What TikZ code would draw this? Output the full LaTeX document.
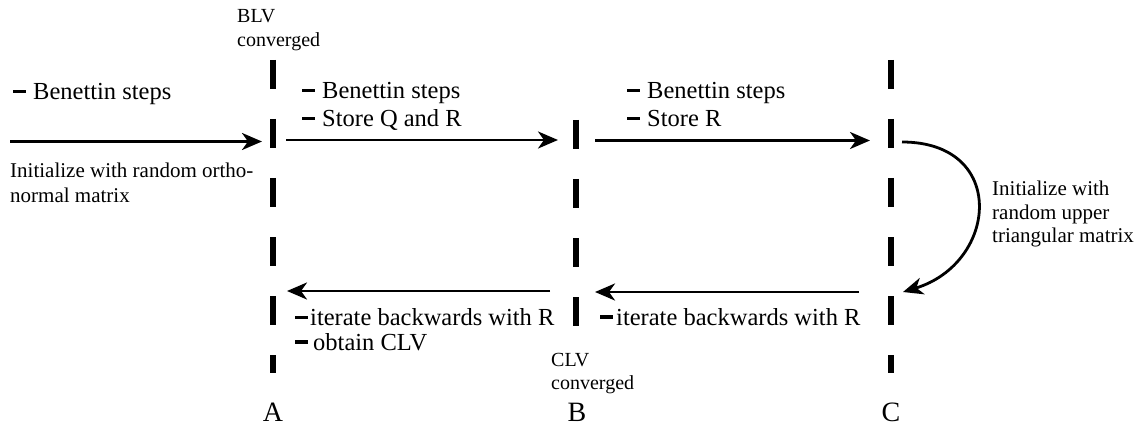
\documentclass[tikz,border=0pt]{standalone}
\usepackage{fontspec}
\setmainfont{Liberation Serif}
\usetikzlibrary{arrows.meta}
\newcommand{\mydash}{\rule[6.5pt]{13pt}{3.2pt}}
\begin{document}
\begin{tikzpicture}[x=1pt,y=-1pt,
  guide/.style={line width=6pt, dash pattern=on 29pt off 30pt},
  flow/.style={line width=2.8pt, -{Stealth[length=20pt,width=17pt,inset=6pt]}},
  big/.style={inner sep=0pt, anchor=base west, font=\fontsize{24.5}{28}\selectfont},
  small/.style={inner sep=0pt, anchor=base west, font=\fontsize{21}{25}\selectfont},
  note/.style={inner sep=0pt, anchor=base west, font=\fontsize{20}{23}\selectfont},
  letter/.style={inner sep=0pt, anchor=base, font=\fontsize{28}{30}\selectfont}]
\useasboundingbox (0,0) rectangle (1141,425);

% vertical dashed guides
\coordinate (Atop) at (273,60);  \coordinate (Abot) at (273,373);
\coordinate (Btop) at (576,120); \coordinate (Bbot) at (576,327);
\coordinate (Ctop) at (891,60);  \coordinate (Cbot) at (891,373);
\draw[guide] (Atop) -- (Abot);
\draw[guide] (Btop) -- (Bbot);
\draw[guide] (Ctop) -- (Cbot);

% forward arrows
\coordinate (f1s) at (10,141.5);  \coordinate (f1e) at (262,141.5);
\coordinate (f2s) at (286,140);   \coordinate (f2e) at (558,140);
\coordinate (f3s) at (595,140.5); \coordinate (f3e) at (870,140.5);
\draw[flow] (f1s) -- (f1e);
\draw[flow] (f2s) -- (f2e);
\draw[flow] (f3s) -- (f3e);

% backward arrows
\coordinate (b1s) at (550,291);   \coordinate (b1e) at (287,291);
\coordinate (b2s) at (859,292);   \coordinate (b2e) at (595,292);
\draw[flow] (b1s) -- (b1e);
\draw[flow] (b2s) -- (b2e);

% curved arrow
\coordinate (cs) at (902,142); \coordinate (ce) at (903,292);
\draw[flow] (cs) .. controls (1008,142) and (998,263) .. (ce);

% texts
\node[big] (t1) at (13,100) {\mydash\hspace{7pt}Benettin steps};
\node[small] (i1) at (10,178) {Initialize with random ortho-};
\node[small] (i2) at (10,202) {normal matrix};

\node[note] (blv1) at (237,23) {BLV};
\node[note] (blv2) at (237,47) {converged};

\node[big] (t2a) at (302,99) {\mydash\hspace{7pt}Benettin steps};
\node[big] (t2b) at (302,126.5) {\mydash\hspace{7pt}Store Q and R};

\node[big] (t3a) at (627,99) {\mydash\hspace{7pt}Benettin steps};
\node[big] (t3b) at (627,126.5) {\mydash\hspace{7pt}Store R};

\node[small] (r1) at (992,196) {Initialize with};
\node[small] (r2) at (992,219) {random upper};
\node[small] (r3) at (992,242) {triangular matrix};

\node[big] (k1a) at (295,325.5) {\mydash\hspace{2pt}iterate backwards with R};
\node[big] (k1b) at (295,350) {\mydash\hspace{5pt}obtain CLV};
\node[big] (k2a) at (600,325) {\mydash\hspace{3pt}iterate backwards with R};

\node[note] (clv1) at (551,366) {CLV};
\node[note] (clv2) at (551,389) {converged};

\node[letter] (A) at (273,421) {A};
\node[letter] (B) at (577,421) {B};
\node[letter] (C) at (891,421) {C};
\end{tikzpicture}
\end{document}
